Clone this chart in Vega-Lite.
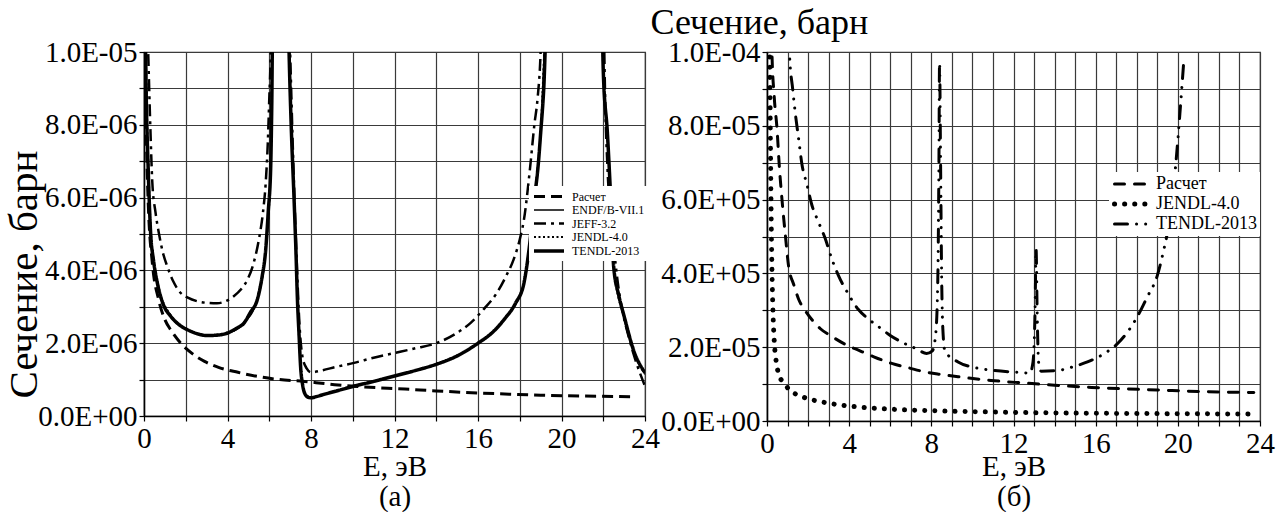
{
  "$schema": "https://vega.github.io/schema/vega-lite/v6.json",
  "background": "white",
  "padding": {"left": 2, "top": 3, "right": 5, "bottom": 0},
  "bounds": "flush",
  "spacing": 122,
  "resolve": {
    "scale": {"strokeDash": "independent", "strokeWidth": "independent"},
    "legend": {"strokeDash": "independent", "strokeWidth": "independent"}
  },
  "config": {
    "font": "Liberation Serif",
    "view": {"stroke": "#333", "strokeWidth": 1.2},
    "axis": {
      "grid": true, "gridColor": "#3a3a3a", "gridWidth": 1.2, "gridOpacity": 1,
      "domainColor": "#000", "domainWidth": 1.5, "tickColor": "#000", "tickSize": 5, "tickWidth": 1.2,
      "labelFontSize": 29, "labelColor": "#000", "labelFont": "Liberation Serif",
      "labelOverlap": false, "labelFlush": false, "labelBound": false, "labelPadding": 2,
      "titleFont": "Liberation Serif", "titleFontWeight": "normal", "titleColor": "#000"
    },
    "legend": {"labelFont": "Liberation Serif", "labelColor": "#000", "fillColor": "white", "symbolStrokeColor": "#000"}
  },
  "hconcat": [
    {
      "width": 501,
      "height": 364,
      "data": {"values": [
        {"src": "Расчет", "E": 0.06, "s": 1.1e-5},
        {"src": "Расчет", "E": 0.1, "s": 8.4e-6},
        {"src": "Расчет", "E": 0.2, "s": 5.9e-6},
        {"src": "Расчет", "E": 0.4, "s": 4.2e-6},
        {"src": "Расчет", "E": 0.7, "s": 3.2e-6},
        {"src": "Расчет", "E": 1.0, "s": 2.65e-6},
        {"src": "Расчет", "E": 1.3, "s": 2.35e-6},
        {"src": "Расчет", "E": 1.76, "s": 2.0e-6},
        {"src": "Расчет", "E": 2.3, "s": 1.72e-6},
        {"src": "Расчет", "E": 2.9, "s": 1.5e-6},
        {"src": "Расчет", "E": 3.6, "s": 1.33e-6},
        {"src": "Расчет", "E": 4.5, "s": 1.2e-6},
        {"src": "Расчет", "E": 5.5, "s": 1.08e-6},
        {"src": "Расчет", "E": 6.5, "s": 1.0e-6},
        {"src": "Расчет", "E": 7.7, "s": 0.95e-6},
        {"src": "Расчет", "E": 8.5, "s": 0.9e-6},
        {"src": "Расчет", "E": 9.3, "s": 0.85e-6},
        {"src": "Расчет", "E": 10.5, "s": 0.8e-6},
        {"src": "Расчет", "E": 12.5, "s": 0.74e-6},
        {"src": "Расчет", "E": 14, "s": 0.69e-6},
        {"src": "Расчет", "E": 15.7, "s": 0.64e-6},
        {"src": "Расчет", "E": 17.5, "s": 0.6e-6},
        {"src": "Расчет", "E": 19, "s": 0.57e-6},
        {"src": "Расчет", "E": 21, "s": 0.55e-6},
        {"src": "Расчет", "E": 23.5, "s": 0.53e-6},

        {"src": "JEFF-3.2", "E": 0.1, "s": 1.2e-5},
        {"src": "JEFF-3.2", "E": 0.2, "s": 1.0e-5},
        {"src": "JEFF-3.2", "E": 0.3, "s": 8.0e-6},
        {"src": "JEFF-3.2", "E": 0.4, "s": 6.4e-6},
        {"src": "JEFF-3.2", "E": 0.55, "s": 5.6e-6},
        {"src": "JEFF-3.2", "E": 0.72, "s": 5.0e-6},
        {"src": "JEFF-3.2", "E": 0.9, "s": 4.5e-6},
        {"src": "JEFF-3.2", "E": 1.12, "s": 4.1e-6},
        {"src": "JEFF-3.2", "E": 1.4, "s": 3.7e-6},
        {"src": "JEFF-3.2", "E": 1.76, "s": 3.38e-6},
        {"src": "JEFF-3.2", "E": 2.1, "s": 3.25e-6},
        {"src": "JEFF-3.2", "E": 2.56, "s": 3.15e-6},
        {"src": "JEFF-3.2", "E": 3.0, "s": 3.11e-6},
        {"src": "JEFF-3.2", "E": 3.5, "s": 3.1e-6},
        {"src": "JEFF-3.2", "E": 3.9, "s": 3.15e-6},
        {"src": "JEFF-3.2", "E": 4.3, "s": 3.29e-6},
        {"src": "JEFF-3.2", "E": 4.65, "s": 3.48e-6},
        {"src": "JEFF-3.2", "E": 4.95, "s": 3.74e-6},
        {"src": "JEFF-3.2", "E": 5.25, "s": 4.2e-6},
        {"src": "JEFF-3.2", "E": 5.5, "s": 4.84e-6},
        {"src": "JEFF-3.2", "E": 5.7, "s": 5.6e-6},
        {"src": "JEFF-3.2", "E": 5.83, "s": 6.4e-6},
        {"src": "JEFF-3.2", "E": 5.93, "s": 7.5e-6},
        {"src": "JEFF-3.2", "E": 6.0, "s": 8.7e-6},
        {"src": "JEFF-3.2", "E": 6.07, "s": 1.0e-5},
        {"src": "JEFF-3.2", "E": 6.12, "s": 1.2e-5},
        {"src": "JEFF-3.2", "E": 6.9, "s": 1.2e-5},
        {"src": "JEFF-3.2", "E": 7.0, "s": 1.0e-5},
        {"src": "JEFF-3.2", "E": 7.15, "s": 7.0e-6},
        {"src": "JEFF-3.2", "E": 7.3, "s": 4.5e-6},
        {"src": "JEFF-3.2", "E": 7.45, "s": 2.5e-6},
        {"src": "JEFF-3.2", "E": 7.6, "s": 1.6e-6},
        {"src": "JEFF-3.2", "E": 7.8, "s": 1.3e-6},
        {"src": "JEFF-3.2", "E": 8.0, "s": 1.2e-6},
        {"src": "JEFF-3.2", "E": 8.5, "s": 1.25e-6},
        {"src": "JEFF-3.2", "E": 9.2, "s": 1.35e-6},
        {"src": "JEFF-3.2", "E": 10.06, "s": 1.46e-6},
        {"src": "JEFF-3.2", "E": 11, "s": 1.6e-6},
        {"src": "JEFF-3.2", "E": 12, "s": 1.73e-6},
        {"src": "JEFF-3.2", "E": 13, "s": 1.86e-6},
        {"src": "JEFF-3.2", "E": 14, "s": 2.0e-6},
        {"src": "JEFF-3.2", "E": 14.9, "s": 2.25e-6},
        {"src": "JEFF-3.2", "E": 15.65, "s": 2.56e-6},
        {"src": "JEFF-3.2", "E": 16.3, "s": 2.95e-6},
        {"src": "JEFF-3.2", "E": 16.9, "s": 3.38e-6},
        {"src": "JEFF-3.2", "E": 17.35, "s": 3.85e-6},
        {"src": "JEFF-3.2", "E": 17.7, "s": 4.29e-6},
        {"src": "JEFF-3.2", "E": 18.0, "s": 4.85e-6},
        {"src": "JEFF-3.2", "E": 18.2, "s": 5.39e-6},
        {"src": "JEFF-3.2", "E": 18.5, "s": 6.85e-6},
        {"src": "JEFF-3.2", "E": 18.7, "s": 8.0e-6},
        {"src": "JEFF-3.2", "E": 18.85, "s": 8.7e-6},
        {"src": "JEFF-3.2", "E": 19.0, "s": 1.0e-5},
        {"src": "JEFF-3.2", "E": 19.1, "s": 1.2e-5},
        {"src": "JEFF-3.2", "E": 22.0, "s": 1.2e-5},
        {"src": "JEFF-3.2", "E": 22.05, "s": 1.0e-5},
        {"src": "JEFF-3.2", "E": 22.1, "s": 8.5e-6},
        {"src": "JEFF-3.2", "E": 22.2, "s": 6.85e-6},
        {"src": "JEFF-3.2", "E": 22.45, "s": 5.0e-6},
        {"src": "JEFF-3.2", "E": 22.7, "s": 3.65e-6},
        {"src": "JEFF-3.2", "E": 22.95, "s": 2.8e-6},
        {"src": "JEFF-3.2", "E": 23.17, "s": 2.28e-6},
        {"src": "JEFF-3.2", "E": 23.4, "s": 1.8e-6},
        {"src": "JEFF-3.2", "E": 23.64, "s": 1.37e-6},
        {"src": "JEFF-3.2", "E": 24, "s": 0.82e-6},

        {"src": "JENDL-4.0", "E": 0.04, "s": 1.2e-5},
        {"src": "JENDL-4.0", "E": 0.12, "s": 8.9e-6},
        {"src": "JENDL-4.0", "E": 0.22, "s": 6.7e-6},
        {"src": "JENDL-4.0", "E": 0.34, "s": 5.0e-6},
        {"src": "JENDL-4.0", "E": 0.64, "s": 3.7e-6},
        {"src": "JENDL-4.0", "E": 1.28, "s": 2.76e-6},
        {"src": "JENDL-4.0", "E": 2.08, "s": 2.38e-6},
        {"src": "JENDL-4.0", "E": 3.0, "s": 2.22e-6},
        {"src": "JENDL-4.0", "E": 4.0, "s": 2.29e-6},
        {"src": "JENDL-4.0", "E": 4.8, "s": 2.58e-6},
        {"src": "JENDL-4.0", "E": 5.43, "s": 3.25e-6},
        {"src": "JENDL-4.0", "E": 5.83, "s": 4.6e-6},
        {"src": "JENDL-4.0", "E": 6.07, "s": 6.9e-6},
        {"src": "JENDL-4.0", "E": 6.17, "s": 1.1e-5},
        {"src": "JENDL-4.0", "E": 6.88, "s": 1.2e-5},
        {"src": "JENDL-4.0", "E": 7.05, "s": 8.0e-6},
        {"src": "JENDL-4.0", "E": 7.19, "s": 6.0e-6},
        {"src": "JENDL-4.0", "E": 7.35, "s": 3.2e-6},
        {"src": "JENDL-4.0", "E": 7.5, "s": 1.4e-6},
        {"src": "JENDL-4.0", "E": 7.7, "s": 0.63e-6},
        {"src": "JENDL-4.0", "E": 8.0, "s": 0.51e-6},
        {"src": "JENDL-4.0", "E": 8.6, "s": 0.6e-6},
        {"src": "JENDL-4.0", "E": 10.06, "s": 0.83e-6},
        {"src": "JENDL-4.0", "E": 12, "s": 1.1e-6},
        {"src": "JENDL-4.0", "E": 14, "s": 1.43e-6},
        {"src": "JENDL-4.0", "E": 16, "s": 2.0e-6},
        {"src": "JENDL-4.0", "E": 17.25, "s": 2.66e-6},
        {"src": "JENDL-4.0", "E": 18.2, "s": 3.66e-6},
        {"src": "JENDL-4.0", "E": 18.7, "s": 5.95e-6},
        {"src": "JENDL-4.0", "E": 19.0, "s": 7.8e-6},
        {"src": "JENDL-4.0", "E": 19.3, "s": 1.1e-5},
        {"src": "JENDL-4.0", "E": 21.9, "s": 1.2e-5},
        {"src": "JENDL-4.0", "E": 22.0, "s": 9.4e-6},
        {"src": "JENDL-4.0", "E": 22.2, "s": 7.7e-6},
        {"src": "JENDL-4.0", "E": 22.36, "s": 5.9e-6},
        {"src": "JENDL-4.0", "E": 22.5, "s": 4.1e-6},
        {"src": "JENDL-4.0", "E": 23.0, "s": 2.7e-6},
        {"src": "JENDL-4.0", "E": 23.5, "s": 1.7e-6},
        {"src": "JENDL-4.0", "E": 24, "s": 1.15e-6},

        {"src": "ENDF/B-VII.1", "E": 0.03, "s": 1.2e-5},
        {"src": "ENDF/B-VII.1", "E": 0.1, "s": 9.0e-6},
        {"src": "ENDF/B-VII.1", "E": 0.2, "s": 6.8e-6},
        {"src": "ENDF/B-VII.1", "E": 0.32, "s": 5.0e-6},
        {"src": "ENDF/B-VII.1", "E": 0.64, "s": 3.65e-6},
        {"src": "ENDF/B-VII.1", "E": 1.28, "s": 2.74e-6},
        {"src": "ENDF/B-VII.1", "E": 2.08, "s": 2.37e-6},
        {"src": "ENDF/B-VII.1", "E": 3.0, "s": 2.21e-6},
        {"src": "ENDF/B-VII.1", "E": 4.0, "s": 2.28e-6},
        {"src": "ENDF/B-VII.1", "E": 4.8, "s": 2.56e-6},
        {"src": "ENDF/B-VII.1", "E": 5.43, "s": 3.2e-6},
        {"src": "ENDF/B-VII.1", "E": 5.83, "s": 4.57e-6},
        {"src": "ENDF/B-VII.1", "E": 6.07, "s": 6.85e-6},
        {"src": "ENDF/B-VII.1", "E": 6.17, "s": 1.1e-5},
        {"src": "ENDF/B-VII.1", "E": 6.88, "s": 1.2e-5},
        {"src": "ENDF/B-VII.1", "E": 7.05, "s": 8.0e-6},
        {"src": "ENDF/B-VII.1", "E": 7.19, "s": 5.94e-6},
        {"src": "ENDF/B-VII.1", "E": 7.35, "s": 3.2e-6},
        {"src": "ENDF/B-VII.1", "E": 7.5, "s": 1.37e-6},
        {"src": "ENDF/B-VII.1", "E": 7.7, "s": 0.62e-6},
        {"src": "ENDF/B-VII.1", "E": 8.0, "s": 0.5e-6},
        {"src": "ENDF/B-VII.1", "E": 8.6, "s": 0.59e-6},
        {"src": "ENDF/B-VII.1", "E": 10.06, "s": 0.82e-6},
        {"src": "ENDF/B-VII.1", "E": 12, "s": 1.1e-6},
        {"src": "ENDF/B-VII.1", "E": 14, "s": 1.42e-6},
        {"src": "ENDF/B-VII.1", "E": 16, "s": 2.0e-6},
        {"src": "ENDF/B-VII.1", "E": 17.25, "s": 2.65e-6},
        {"src": "ENDF/B-VII.1", "E": 18.2, "s": 3.65e-6},
        {"src": "ENDF/B-VII.1", "E": 18.7, "s": 5.94e-6},
        {"src": "ENDF/B-VII.1", "E": 19.0, "s": 7.76e-6},
        {"src": "ENDF/B-VII.1", "E": 19.3, "s": 1.1e-5},
        {"src": "ENDF/B-VII.1", "E": 21.9, "s": 1.2e-5},
        {"src": "ENDF/B-VII.1", "E": 22.0, "s": 9.5e-6},
        {"src": "ENDF/B-VII.1", "E": 22.2, "s": 7.76e-6},
        {"src": "ENDF/B-VII.1", "E": 22.36, "s": 5.94e-6},
        {"src": "ENDF/B-VII.1", "E": 22.5, "s": 4.1e-6},
        {"src": "ENDF/B-VII.1", "E": 23.0, "s": 2.74e-6},
        {"src": "ENDF/B-VII.1", "E": 23.5, "s": 1.73e-6},
        {"src": "ENDF/B-VII.1", "E": 24, "s": 1.19e-6},

        {"src": "TENDL-2013", "E": 0.03, "s": 1.2e-5},
        {"src": "TENDL-2013", "E": 0.1, "s": 9.0e-6},
        {"src": "TENDL-2013", "E": 0.2, "s": 6.8e-6},
        {"src": "TENDL-2013", "E": 0.32, "s": 5.0e-6},
        {"src": "TENDL-2013", "E": 0.45, "s": 4.3e-6},
        {"src": "TENDL-2013", "E": 0.64, "s": 3.65e-6},
        {"src": "TENDL-2013", "E": 0.9, "s": 3.1e-6},
        {"src": "TENDL-2013", "E": 1.28, "s": 2.74e-6},
        {"src": "TENDL-2013", "E": 1.7, "s": 2.5e-6},
        {"src": "TENDL-2013", "E": 2.08, "s": 2.37e-6},
        {"src": "TENDL-2013", "E": 2.5, "s": 2.27e-6},
        {"src": "TENDL-2013", "E": 3.0, "s": 2.21e-6},
        {"src": "TENDL-2013", "E": 3.5, "s": 2.22e-6},
        {"src": "TENDL-2013", "E": 4.0, "s": 2.28e-6},
        {"src": "TENDL-2013", "E": 4.4, "s": 2.4e-6},
        {"src": "TENDL-2013", "E": 4.8, "s": 2.56e-6},
        {"src": "TENDL-2013", "E": 5.1, "s": 2.85e-6},
        {"src": "TENDL-2013", "E": 5.43, "s": 3.2e-6},
        {"src": "TENDL-2013", "E": 5.65, "s": 3.8e-6},
        {"src": "TENDL-2013", "E": 5.83, "s": 4.57e-6},
        {"src": "TENDL-2013", "E": 5.95, "s": 5.6e-6},
        {"src": "TENDL-2013", "E": 6.07, "s": 6.85e-6},
        {"src": "TENDL-2013", "E": 6.12, "s": 8.5e-6},
        {"src": "TENDL-2013", "E": 6.17, "s": 1.1e-5},
        {"src": "TENDL-2013", "E": 6.88, "s": 1.2e-5},
        {"src": "TENDL-2013", "E": 6.95, "s": 1.0e-5},
        {"src": "TENDL-2013", "E": 7.05, "s": 8.0e-6},
        {"src": "TENDL-2013", "E": 7.19, "s": 5.94e-6},
        {"src": "TENDL-2013", "E": 7.28, "s": 4.5e-6},
        {"src": "TENDL-2013", "E": 7.35, "s": 3.2e-6},
        {"src": "TENDL-2013", "E": 7.43, "s": 2.2e-6},
        {"src": "TENDL-2013", "E": 7.5, "s": 1.37e-6},
        {"src": "TENDL-2013", "E": 7.6, "s": 0.85e-6},
        {"src": "TENDL-2013", "E": 7.7, "s": 0.62e-6},
        {"src": "TENDL-2013", "E": 7.85, "s": 0.52e-6},
        {"src": "TENDL-2013", "E": 8.0, "s": 0.5e-6},
        {"src": "TENDL-2013", "E": 8.3, "s": 0.54e-6},
        {"src": "TENDL-2013", "E": 8.6, "s": 0.59e-6},
        {"src": "TENDL-2013", "E": 9.3, "s": 0.7e-6},
        {"src": "TENDL-2013", "E": 10.06, "s": 0.82e-6},
        {"src": "TENDL-2013", "E": 11, "s": 0.95e-6},
        {"src": "TENDL-2013", "E": 12, "s": 1.1e-6},
        {"src": "TENDL-2013", "E": 13, "s": 1.25e-6},
        {"src": "TENDL-2013", "E": 14, "s": 1.42e-6},
        {"src": "TENDL-2013", "E": 15, "s": 1.65e-6},
        {"src": "TENDL-2013", "E": 16, "s": 2.0e-6},
        {"src": "TENDL-2013", "E": 16.7, "s": 2.3e-6},
        {"src": "TENDL-2013", "E": 17.25, "s": 2.65e-6},
        {"src": "TENDL-2013", "E": 17.8, "s": 3.1e-6},
        {"src": "TENDL-2013", "E": 18.2, "s": 3.65e-6},
        {"src": "TENDL-2013", "E": 18.45, "s": 4.6e-6},
        {"src": "TENDL-2013", "E": 18.7, "s": 5.94e-6},
        {"src": "TENDL-2013", "E": 18.9, "s": 7.0e-6},
        {"src": "TENDL-2013", "E": 19.0, "s": 7.76e-6},
        {"src": "TENDL-2013", "E": 19.15, "s": 9.0e-6},
        {"src": "TENDL-2013", "E": 19.3, "s": 1.1e-5},
        {"src": "TENDL-2013", "E": 21.9, "s": 1.2e-5},
        {"src": "TENDL-2013", "E": 22.0, "s": 9.5e-6},
        {"src": "TENDL-2013", "E": 22.2, "s": 7.76e-6},
        {"src": "TENDL-2013", "E": 22.36, "s": 5.94e-6},
        {"src": "TENDL-2013", "E": 22.5, "s": 4.1e-6},
        {"src": "TENDL-2013", "E": 22.75, "s": 3.3e-6},
        {"src": "TENDL-2013", "E": 23.0, "s": 2.74e-6},
        {"src": "TENDL-2013", "E": 23.5, "s": 1.73e-6},
        {"src": "TENDL-2013", "E": 24, "s": 1.19e-6}
      ]},
      "mark": {"type": "line", "clip": true, "interpolate": "monotone", "color": "#000"},
      "encoding": {
        "x": {
          "field": "E", "type": "quantitative",
          "scale": {"domain": [0, 24], "nice": false},
          "axis": {
            "values": [0, 2, 4, 6, 8, 10, 12, 14, 16, 18, 20, 22, 24],
            "labelExpr": "datum.value % 4 == 0 ? datum.label : ''",
            "labelPadding": 3,
            "title": ["E, эВ", "(a)"],
            "titleFontSize": 29, "titleLineHeight": 30,
            "titleBaseline": "alphabetic", "titleY": 59, "titleX": 250.5, "titleAlign": "center"
          }
        },
        "y": {
          "field": "s", "type": "quantitative",
          "scale": {"domain": [0, 1e-5], "nice": false},
          "axis": {
            "values": [0, 1e-6, 2e-6, 3e-6, 4e-6, 5e-6, 6e-6, 7e-6, 8e-6, 9e-6, 1e-5],
            "labelExpr": "round(datum.value*1e6) == 10 ? '1.0E-05' : round(datum.value*1e6) == 0 ? '0.0E+00' : round(datum.value*1e6) % 2 == 0 ? (round(datum.value*1e6) + '.0E-06') : ''",
            "title": "Сечение, барн",
            "titleFontSize": 41, "titleAngle": 270,
            "titleBaseline": "alphabetic", "titleAlign": "center",
            "titleX": -108, "titleY": 222
          }
        },
        "strokeDash": {
          "field": "src", "type": "nominal",
          "scale": {
            "domain": ["Расчет", "ENDF/B-VII.1", "JEFF-3.2", "JENDL-4.0", "TENDL-2013"],
            "range": [[11, 6], [1, 0], [12, 5, 3, 5], [2, 2.5], [1, 0]]
          },
          "legend": {
            "title": null, "orient": "none", "legendX": 385, "legendY": 134,
            "labelFontSize": 12, "symbolSize": 144, "symbolType": "M-1,0H4",
            "rowPadding": 0, "labelOffset": 24, "padding": 3, "fillColor": "white"
          }
        },
        "strokeWidth": {
          "field": "src", "type": "nominal",
          "scale": {
            "type": "ordinal",
            "domain": ["Расчет", "ENDF/B-VII.1", "JEFF-3.2", "JENDL-4.0", "TENDL-2013"],
            "range": [3, 1.5, 2.5, 2, 3.5]
          },
          "legend": {
            "title": null, "orient": "none", "legendX": 385, "legendY": 134,
            "labelFontSize": 12, "symbolSize": 144, "symbolType": "M-1,0H4",
            "rowPadding": 0, "labelOffset": 24, "padding": 3, "fillColor": "white"
          }
        }
      }
    },
    {
      "width": 493,
      "height": 369,
      "data": {"values": [
        {"src": "Расчет", "E": 0.2, "s": 1.15e-4},
        {"src": "Расчет", "E": 0.24, "s": 1.0e-4},
        {"src": "Расчет", "E": 0.35, "s": 8.8e-5},
        {"src": "Расчет", "E": 0.49, "s": 7.9e-5},
        {"src": "Расчет", "E": 0.6, "s": 6.9e-5},
        {"src": "Расчет", "E": 0.73, "s": 6.0e-5},
        {"src": "Расчет", "E": 0.9, "s": 5.0e-5},
        {"src": "Расчет", "E": 1.05, "s": 4.2e-5},
        {"src": "Расчет", "E": 1.3, "s": 3.7e-5},
        {"src": "Расчет", "E": 1.54, "s": 3.3e-5},
        {"src": "Расчет", "E": 1.85, "s": 3.0e-5},
        {"src": "Расчет", "E": 2.18, "s": 2.75e-5},
        {"src": "Расчет", "E": 2.6, "s": 2.5e-5},
        {"src": "Расчет", "E": 3.16, "s": 2.29e-5},
        {"src": "Расчет", "E": 3.8, "s": 2.08e-5},
        {"src": "Расчет", "E": 4.45, "s": 1.92e-5},
        {"src": "Расчет", "E": 5.2, "s": 1.74e-5},
        {"src": "Расчет", "E": 6.07, "s": 1.56e-5},
        {"src": "Расчет", "E": 6.9, "s": 1.44e-5},
        {"src": "Расчет", "E": 7.69, "s": 1.33e-5},
        {"src": "Расчет", "E": 8.5, "s": 1.26e-5},
        {"src": "Расчет", "E": 9.3, "s": 1.2e-5},
        {"src": "Расчет", "E": 10.9, "s": 1.1e-5},
        {"src": "Расчет", "E": 12.5, "s": 1.03e-5},
        {"src": "Расчет", "E": 14, "s": 0.97e-5},
        {"src": "Расчет", "E": 15.8, "s": 0.91e-5},
        {"src": "Расчет", "E": 17.5, "s": 0.87e-5},
        {"src": "Расчет", "E": 19, "s": 0.84e-5},
        {"src": "Расчет", "E": 21, "s": 0.8e-5},
        {"src": "Расчет", "E": 23.7, "s": 0.77e-5},

        {"src": "JENDL-4.0", "E": 0.1, "s": 1.15e-4},
        {"src": "JENDL-4.0", "E": 0.13, "s": 1.0e-4},
        {"src": "JENDL-4.0", "E": 0.16, "s": 8.0e-5},
        {"src": "JENDL-4.0", "E": 0.19, "s": 6.2e-5},
        {"src": "JENDL-4.0", "E": 0.22, "s": 4.8e-5},
        {"src": "JENDL-4.0", "E": 0.26, "s": 3.6e-5},
        {"src": "JENDL-4.0", "E": 0.3, "s": 2.8e-5},
        {"src": "JENDL-4.0", "E": 0.36, "s": 2.1e-5},
        {"src": "JENDL-4.0", "E": 0.45, "s": 1.6e-5},
        {"src": "JENDL-4.0", "E": 0.57, "s": 1.27e-5},
        {"src": "JENDL-4.0", "E": 0.75, "s": 1.07e-5},
        {"src": "JENDL-4.0", "E": 0.89, "s": 0.97e-5},
        {"src": "JENDL-4.0", "E": 1.2, "s": 0.8e-5},
        {"src": "JENDL-4.0", "E": 1.7, "s": 0.66e-5},
        {"src": "JENDL-4.0", "E": 2.3, "s": 0.56e-5},
        {"src": "JENDL-4.0", "E": 2.83, "s": 0.5e-5},
        {"src": "JENDL-4.0", "E": 3.6, "s": 0.43e-5},
        {"src": "JENDL-4.0", "E": 4.45, "s": 0.38e-5},
        {"src": "JENDL-4.0", "E": 5.4, "s": 0.34e-5},
        {"src": "JENDL-4.0", "E": 6.4, "s": 0.31e-5},
        {"src": "JENDL-4.0", "E": 8, "s": 0.28e-5},
        {"src": "JENDL-4.0", "E": 9.3, "s": 0.26e-5},
        {"src": "JENDL-4.0", "E": 11, "s": 0.245e-5},
        {"src": "JENDL-4.0", "E": 12.5, "s": 0.23e-5},
        {"src": "JENDL-4.0", "E": 14, "s": 0.22e-5},
        {"src": "JENDL-4.0", "E": 15.8, "s": 0.21e-5},
        {"src": "JENDL-4.0", "E": 17.5, "s": 0.205e-5},
        {"src": "JENDL-4.0", "E": 19, "s": 0.2e-5},
        {"src": "JENDL-4.0", "E": 21, "s": 0.195e-5},
        {"src": "JENDL-4.0", "E": 23.7, "s": 0.19e-5},

        {"src": "TENDL-2013", "E": 1.05, "s": 1.15e-4},
        {"src": "TENDL-2013", "E": 1.1, "s": 9.9e-5},
        {"src": "TENDL-2013", "E": 1.25, "s": 9.0e-5},
        {"src": "TENDL-2013", "E": 1.38, "s": 8.33e-5},
        {"src": "TENDL-2013", "E": 1.55, "s": 7.6e-5},
        {"src": "TENDL-2013", "E": 1.7, "s": 6.96e-5},
        {"src": "TENDL-2013", "E": 1.95, "s": 6.4e-5},
        {"src": "TENDL-2013", "E": 2.18, "s": 5.86e-5},
        {"src": "TENDL-2013", "E": 2.5, "s": 5.4e-5},
        {"src": "TENDL-2013", "E": 2.83, "s": 4.95e-5},
        {"src": "TENDL-2013", "E": 3.15, "s": 4.4e-5},
        {"src": "TENDL-2013", "E": 3.48, "s": 3.94e-5},
        {"src": "TENDL-2013", "E": 3.95, "s": 3.45e-5},
        {"src": "TENDL-2013", "E": 4.45, "s": 3.02e-5},
        {"src": "TENDL-2013", "E": 4.9, "s": 2.78e-5},
        {"src": "TENDL-2013", "E": 5.42, "s": 2.56e-5},
        {"src": "TENDL-2013", "E": 6.0, "s": 2.32e-5},
        {"src": "TENDL-2013", "E": 6.7, "s": 2.1e-5},
        {"src": "TENDL-2013", "E": 7.3, "s": 1.95e-5},
        {"src": "TENDL-2013", "E": 7.77, "s": 1.83e-5},
        {"src": "TENDL-2013", "E": 8.05, "s": 1.9e-5},
        {"src": "TENDL-2013", "E": 8.22, "s": 2.4e-5},
        {"src": "TENDL-2013", "E": 8.32, "s": 4.0e-5},
        {"src": "TENDL-2013", "E": 8.37, "s": 7.0e-5},
        {"src": "TENDL-2013", "E": 8.4, "s": 9.7e-5},
        {"src": "TENDL-2013", "E": 8.45, "s": 7.0e-5},
        {"src": "TENDL-2013", "E": 8.5, "s": 4.0e-5},
        {"src": "TENDL-2013", "E": 8.56, "s": 2.5e-5},
        {"src": "TENDL-2013", "E": 8.66, "s": 1.9e-5},
        {"src": "TENDL-2013", "E": 9.3, "s": 1.6e-5},
        {"src": "TENDL-2013", "E": 10.1, "s": 1.45e-5},
        {"src": "TENDL-2013", "E": 10.9, "s": 1.38e-5},
        {"src": "TENDL-2013", "E": 12.2, "s": 1.32e-5},
        {"src": "TENDL-2013", "E": 12.8, "s": 1.3e-5},
        {"src": "TENDL-2013", "E": 12.95, "s": 1.6e-5},
        {"src": "TENDL-2013", "E": 13.05, "s": 3.0e-5},
        {"src": "TENDL-2013", "E": 13.1, "s": 4.65e-5},
        {"src": "TENDL-2013", "E": 13.15, "s": 3.0e-5},
        {"src": "TENDL-2013", "E": 13.22, "s": 1.6e-5},
        {"src": "TENDL-2013", "E": 13.35, "s": 1.35e-5},
        {"src": "TENDL-2013", "E": 14.16, "s": 1.37e-5},
        {"src": "TENDL-2013", "E": 14.9, "s": 1.47e-5},
        {"src": "TENDL-2013", "E": 15.6, "s": 1.6e-5},
        {"src": "TENDL-2013", "E": 16.4, "s": 1.82e-5},
        {"src": "TENDL-2013", "E": 17.07, "s": 2.1e-5},
        {"src": "TENDL-2013", "E": 17.6, "s": 2.45e-5},
        {"src": "TENDL-2013", "E": 18.04, "s": 2.84e-5},
        {"src": "TENDL-2013", "E": 18.5, "s": 3.35e-5},
        {"src": "TENDL-2013", "E": 19.0, "s": 3.94e-5},
        {"src": "TENDL-2013", "E": 19.3, "s": 4.6e-5},
        {"src": "TENDL-2013", "E": 19.5, "s": 5.13e-5},
        {"src": "TENDL-2013", "E": 19.75, "s": 6.1e-5},
        {"src": "TENDL-2013", "E": 19.9, "s": 6.96e-5},
        {"src": "TENDL-2013", "E": 20.1, "s": 8.33e-5},
        {"src": "TENDL-2013", "E": 20.3, "s": 9.84e-5}
      ]},
      "mark": {"type": "line", "clip": true, "interpolate": "monotone", "color": "#000", "strokeCap": "round"},
      "encoding": {
        "x": {
          "field": "E", "type": "quantitative",
          "scale": {"domain": [0, 24], "nice": false},
          "axis": {
            "values": [0, 1, 2, 3, 4, 5, 6, 7, 8, 9, 10, 11, 12, 13, 14, 15, 16, 17, 18, 19, 20, 21, 22, 23, 24],
            "labelExpr": "datum.value % 4 == 0 ? datum.label : ''",
            "labelPadding": 3,
            "title": ["E, эВ", "(б)"],
            "titleFontSize": 29, "titleLineHeight": 30,
            "titleBaseline": "alphabetic", "titleY": 54, "titleX": 246.5, "titleAlign": "center"
          }
        },
        "y": {
          "field": "s", "type": "quantitative",
          "scale": {"domain": [0, 1e-4], "nice": false},
          "axis": {
            "values": [0, 1e-5, 2e-5, 3e-5, 4e-5, 5e-5, 6e-5, 7e-5, 8e-5, 9e-5, 1e-4],
            "labelExpr": "round(datum.value*1e5) == 10 ? '1.0E-04' : round(datum.value*1e5) == 8 ? '8.0E-05' : round(datum.value*1e5) == 6 ? '6.0E+05' : round(datum.value*1e5) == 4 ? '4.0E+05' : round(datum.value*1e5) == 2 ? '2.0E-05' : round(datum.value*1e5) == 0 ? '0.0E+00' : ''",
            "title": "Сечение, барн",
            "titleFontSize": 36, "titleAngle": 0,
            "titleBaseline": "alphabetic", "titleAlign": "left",
            "titleX": -117, "titleY": -19
          }
        },
        "strokeDash": {
          "field": "src", "type": "nominal",
          "scale": {
            "domain": ["Расчет", "JENDL-4.0", "TENDL-2013"],
            "range": [[10, 10], [0.1, 10], [13, 9, 0.1, 9, 0.1, 9]]
          },
          "legend": {
            "title": null, "orient": "none", "legendX": 342, "legendY": 120,
            "labelFontSize": 18, "symbolSize": 196, "symbolType": "M-1,0H4",
            "rowPadding": 0.5, "labelOffset": 25, "padding": 3, "fillColor": "white",
            "encode": {"symbols": {"update": {"strokeCap": {"value": "round"}}}}
          }
        },
        "strokeWidth": {
          "field": "src", "type": "nominal",
          "scale": {
            "type": "ordinal",
            "domain": ["Расчет", "JENDL-4.0", "TENDL-2013"],
            "range": [3, 5, 3]
          },
          "legend": {
            "title": null, "orient": "none", "legendX": 342, "legendY": 120,
            "labelFontSize": 18, "symbolSize": 196, "symbolType": "M-1,0H4",
            "rowPadding": 0.5, "labelOffset": 25, "padding": 3, "fillColor": "white",
            "encode": {"symbols": {"update": {"strokeCap": {"value": "round"}}}}
          }
        }
      }
    }
  ]
}
